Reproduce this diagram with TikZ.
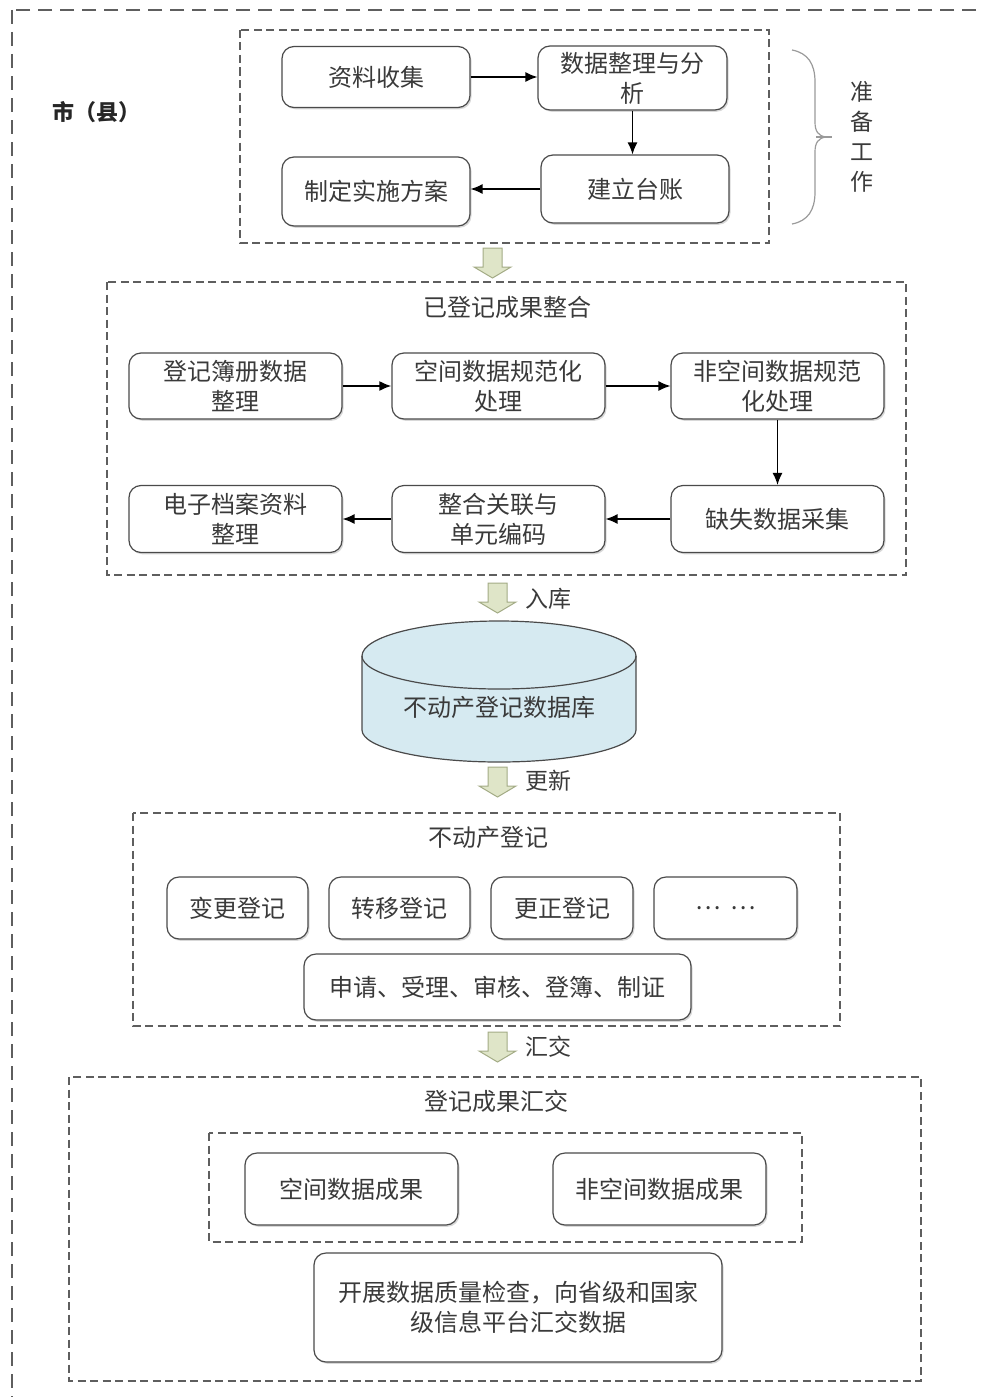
\documentclass[tikz,border=0pt]{standalone}
\usepackage{fontspec}
\newfontfamily\cjk{Noto Sans CJK SC}
\usetikzlibrary{arrows.meta,shadows}
\definecolor{txt}{HTML}{3A3A3A}
\definecolor{edge}{HTML}{4A4A4A}
\definecolor{dashc}{HTML}{5E5E5E}
\definecolor{hafill}{HTML}{DFE5C8}
\definecolor{hadraw}{HTML}{A3AB85}
\definecolor{dbfill}{HTML}{D6EAF1}
\definecolor{bracec}{HTML}{9A9A9A}
\newcommand\hollowarrow[1]{%
  \filldraw[fill=hafill,draw=hadraw,line width=1pt,line join=miter] (#1) ++(-9.5,0) -- ++(19,0) -- ++(0,19) -- ++(9,0) -- ++(-18.5,11) -- ++(-18.5,-11) -- ++(9,0) -- cycle;}
\begin{document}
\begin{tikzpicture}[x=1pt,y=-1pt,
  font=\cjk\fontsize{24}{30}\selectfont,
  box/.style={draw=edge, line width=1.2pt, rounded corners=12pt, fill=white, align=center, text=txt, inner sep=2pt,
    drop shadow={shadow xshift=1.5pt, shadow yshift=-1.8pt, fill=black!30, opacity=.5}},
  grp/.style={draw=dashc, line width=1.4pt, dash pattern=on 8pt off 4.5pt},
  lbl/.style={text=txt, inner sep=0pt},
  conn/.style={draw=black, line width=1.3pt, -{Latex[length=12pt,width=10pt]}}
]
\useasboundingbox (0,0) rectangle (981,1397);
\clip (0,0) rectangle (981,1397);
% outer border
\draw[draw=dashc, line width=2pt, dash pattern=on 14pt off 8pt] (12,10) rectangle (1010,1430);
\node[lbl, font=\cjk\bfseries\fontsize{22}{26}\selectfont, text=black!85] (city) at (96,112) {市（县）};

% ---------- preparation ----------
\draw[grp] (240,30) rectangle (769,243);
\node[box, minimum width=188pt, minimum height=61pt] (a1) at (376,77) {资料收集};
\node[box, minimum width=189pt, minimum height=64pt] (a2) at (632.5,78) {数据整理与分\\析};
\node[box, minimum width=188pt, minimum height=68pt] (a3) at (635,189) {建立台账};
\node[box, minimum width=188pt, minimum height=69pt] (a4) at (376,191.5) {制定实施方案};
\draw[conn] (a1.east) -- (a1.east -| a2.west);
\draw[conn] (a2.south) -- (a2.south |- a3.north);
\draw[conn] (a3.west) -- (a3.west -| a4.east);
% brace
\draw[bracec, line width=1.2pt] (792,50) .. controls (808,53) and (815,64) .. (815,82) -- (815,122)
   .. controls (815,131) and (818,136) .. (826,137) .. controls (818,138) and (815,143) .. (815,152)
   -- (815,192) .. controls (815,210) and (808,221) .. (792,224);
\draw[bracec, line width=1.2pt] (816,137) -- (832,137);
\node[lbl, align=center, font=\cjk\fontsize{23}{30}\selectfont] (prep) at (862,137) {准\\备\\工\\作};

% ---------- integration ----------
\coordinate (h1) at (492.5,248);
\hollowarrow{h1}
\draw[grp] (107,282) rectangle (906,575);
\node[lbl] (t2) at (507,307) {已登记成果整合};
\node[box, minimum width=213pt, minimum height=66pt] (b1) at (235.5,386) {登记簿册数据\\整理};
\node[box, minimum width=213pt, minimum height=66pt] (b2) at (498.5,386) {空间数据规范化\\处理};
\node[box, minimum width=213pt, minimum height=66pt] (b3) at (777.5,386) {非空间数据规范\\化处理};
\node[box, minimum width=213pt, minimum height=67pt] (b6) at (235.5,519) {电子档案资料\\整理};
\node[box, minimum width=213pt, minimum height=67pt] (b5) at (498.5,519) {整合关联与\\单元编码};
\node[box, minimum width=213pt, minimum height=67pt] (b4) at (777.5,519) {缺失数据采集};
\draw[conn, line width=1.8pt] (b1) -- (b2);
\draw[conn] (b2) -- (b3);
\draw[conn] (b3) -- (b4);
\draw[conn] (b4) -- (b5);
\draw[conn] (b5) -- (b6);

% ---------- database ----------
\coordinate (h2) at (497.5,583);
\hollowarrow{h2}
\node[lbl, anchor=west, font=\cjk\fontsize{23}{26}\selectfont] (in) at (525,599) {入库};
\filldraw[fill=dbfill, draw=edge, line width=1.2pt] (362,656) -- (362,730)
   arc[start angle=180,end angle=0,x radius=137,y radius=32] -- (636,656)
   arc[start angle=0,end angle=-180,x radius=137,y radius=35] -- cycle;
\draw[edge, line width=1.2pt] (362,656) arc[start angle=180,end angle=0,x radius=137,y radius=33];
\node[lbl] (db) at (499,707) {不动产登记数据库};
\coordinate (h3) at (497.5,767);
\hollowarrow{h3}
\node[lbl, anchor=west, font=\cjk\fontsize{23}{26}\selectfont] (upd) at (525,781) {更新};

% ---------- registration ----------
\draw[grp] (133,813) rectangle (840,1026);
\node[lbl] (t3) at (488,837) {不动产登记};
\node[box, minimum width=141pt, minimum height=62pt] (c1) at (237.5,908) {变更登记};
\node[box, minimum width=141pt, minimum height=62pt] (c2) at (399.5,908) {转移登记};
\node[box, minimum width=142pt, minimum height=62pt] (c3) at (562,908) {更正登记};
\node[box, minimum width=143pt, minimum height=62pt] (c4) at (725.5,908) {…\hspace{10pt}…};
\node[box, minimum width=387pt, minimum height=66pt] (c5) at (497.5,987) {申请、受理、审核、登簿、制证};

% ---------- submission ----------
\coordinate (h4) at (497.5,1032);
\hollowarrow{h4}
\node[lbl, anchor=west, font=\cjk\fontsize{23}{26}\selectfont] (sub) at (525,1047) {汇交};
\draw[grp] (69,1077) rectangle (921,1381);
\node[lbl] (t4) at (496,1101) {登记成果汇交};
\draw[grp] (209,1133) rectangle (802,1242);
\node[box, minimum width=213pt, minimum height=72pt] (d1) at (351.5,1189) {空间数据成果};
\node[box, minimum width=213pt, minimum height=72pt] (d2) at (659.5,1189) {非空间数据成果};
\node[box, minimum width=408pt, minimum height=109pt] (d3) at (518,1307.5) {开展数据质量检查，向省级和国家\\级信息平台汇交数据};
\end{tikzpicture}
\end{document}
